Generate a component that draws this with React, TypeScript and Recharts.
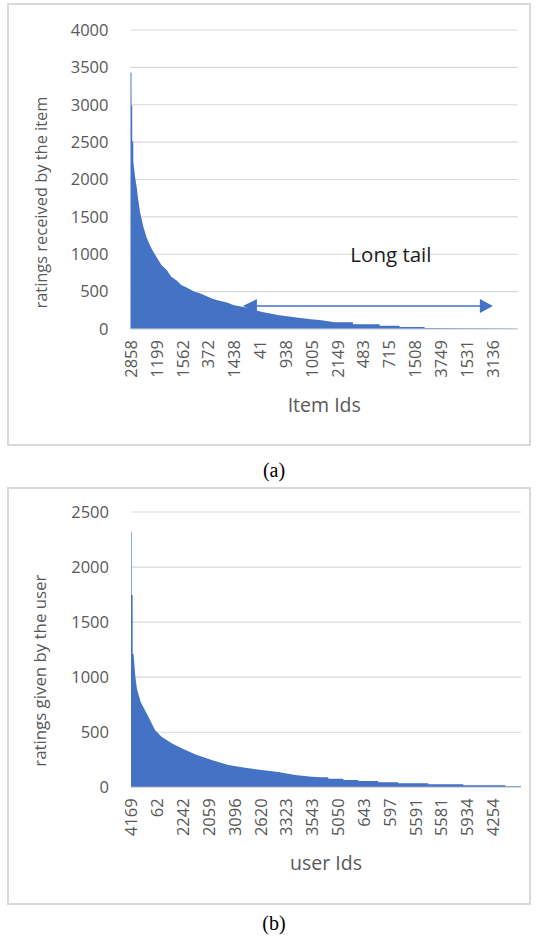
import React from "react";
import {
  AreaChart,
  Area,
  XAxis,
  YAxis,
  CartesianGrid,
  ReferenceLine,
  Label,
} from "recharts";

// item popularity (rank in sorted order -> ratings received)
const itemRanks = [
  0, 9, 10, 16, 17, 26, 27, 43, 59, 74, 91, 122, 155, 186, 218, 294, 346, 390,
  441, 485, 537, 613, 664, 772, 823, 931, 982, 1091, 1249, 1409, 1568, 1723,
  1810, 1953, 2127, 2128, 2382, 2383, 2573, 2574, 2812, 2813, 3700, 3706,
];
const itemCounts = [
  3430, 3430, 2990, 2990, 2510, 2510, 2240, 2040, 1900, 1725, 1570, 1370, 1220,
  1120, 1034, 860, 789, 700, 650, 590, 555, 500, 477, 410, 388, 352, 321, 290,
  231, 187, 156, 130, 120, 89, 89, 63, 63, 44, 44, 27, 27, 13, 5, 5,
];
const itemTickRanks = [
  0, 247, 494, 741, 988, 1235, 1482, 1729, 1976, 2223, 2470, 2717, 2964, 3211,
  3458,
];
const itemTickLabels = [
  "2858", "1199", "1562", "372", "1438", "41", "938", "1005", "2149", "483",
  "715", "1508", "3749", "1531", "3136",
];
const itemYTicks = [0, 500, 1000, 1500, 2000, 2500, 3000, 3500, 4000];

// user activity (rank -> ratings given)
const userRanks = [
  0, 9, 10, 25, 26, 40, 67, 93, 118, 150, 268, 372, 474, 629, 784, 991, 1249,
  1507, 1766, 2023, 2282, 2540, 2797, 2932, 3055, 3056, 3288, 3289, 3520, 3521,
  3830, 3831, 4139, 4140, 4604, 4605, 5146, 5147, 5797, 5798, 6040,
];
const userCounts = [
  2320, 2320, 1746, 1746, 1210, 1210, 1004, 890, 840, 775, 642, 521, 460, 400,
  354, 300, 248, 203, 178, 157, 139, 112, 96, 91, 91, 78, 78, 66, 66, 57, 57,
  45, 45, 36, 36, 27, 27, 18, 18, 9, 9,
];
const userTickRanks = [
  0, 400, 800, 1200, 1600, 2000, 2400, 2800, 3200, 3600, 4000, 4400, 4800, 5200,
  5600,
];
const userTickLabels = [
  "4169", "62", "2242", "2059", "3096", "2620", "3323", "3543", "5050", "643",
  "597", "5591", "5581", "5934", "4254",
];
const userYTicks = [0, 500, 1000, 1500, 2000, 2500];

const BLUE = "#4472C4";
const GREY = "#595959";
const GRID = "#d9d9d9";
const FONT = "'Open Sans', sans-serif";

const itemData = itemRanks.map((rank, i) => ({ rank, count: itemCounts[i] }));
const userData = userRanks.map((rank, i) => ({ rank, count: userCounts[i] }));

function makeTick(ticks: number[], labels: string[]) {
  return (props: any) => {
    const { x, y, payload } = props;
    const idx = ticks.indexOf(payload.value);
    return (
      <text
        x={x}
        y={y}
        transform={`rotate(-90 ${x} ${y})`}
        textAnchor="end"
        dominantBaseline="central"
        fill={GREY}
        fontSize={16.5}
        fontFamily={FONT}
      >
        {labels[idx]}
      </text>
    );
  };
}

// the axis titles sit a little below the middle of the plot in the original,
// and the original font is narrower, hence textLength
function yTitle(text: string, shift: number, len: number) {
  return (props: any) => {
    const vb = props.viewBox;
    const cx = vb.x + 33;
    const cy = vb.y + vb.height / 2 + shift;
    return (
      <text
        x={cx}
        y={cy}
        transform={`rotate(-90 ${cx} ${cy})`}
        textAnchor="middle"
        dominantBaseline="central"
        fill={GREY}
        fontSize={17}
        fontFamily={FONT}
        textLength={len}
        lengthAdjust="spacingAndGlyphs"
      >
        {text}
      </text>
    );
  };
}

function xTitle(text: string, dy: number) {
  return (props: any) => {
    const vb = props.viewBox;
    return (
      <text
        x={vb.x + vb.width / 2}
        y={vb.y + dy}
        textAnchor="middle"
        fill={GREY}
        fontSize={19.5}
        fontFamily={FONT}
      >
        {text}
      </text>
    );
  };
}

function TailArrow(props: any) {
  const { x1, y1, x2, y2 } = props;
  return (
    <g>
      <line x1={x1 + 12} y1={y1} x2={x2 - 12} y2={y2} stroke={BLUE} strokeWidth={1.5} />
      <polygon points={`${x1},${y1} ${x1 + 14},${y1 - 7} ${x1 + 14},${y1 + 7}`} fill={BLUE} />
      <polygon points={`${x2},${y2} ${x2 - 13},${y2 - 7} ${x2 - 13},${y2 + 7}`} fill={BLUE} />
      <text
        x={(x1 + x2) / 2 + 23}
        y={y1 - 44}
        textAnchor="middle"
        fill="#1a1a1a"
        fontSize={20.5}
        fontFamily={FONT}
      >
        Long tail
      </text>
    </g>
  );
}

const boxStyle: React.CSSProperties = {
  position: "absolute",
  left: 7,
  width: 524,
  border: `2px solid ${GRID}`,
  boxSizing: "border-box",
};

const captionStyle: React.CSSProperties = {
  position: "absolute",
  left: 0,
  width: 548,
  textAlign: "center",
  fontFamily: "'Liberation Serif', serif",
  fontSize: 20,
  color: "#000",
};

export default function App() {
  return (
    <div style={{ position: "absolute", left: 0, top: 0, width: 538, height: 939, background: "#fff" }}>
      <div style={{ ...boxStyle, top: 3, height: 443 }} />
      <div style={{ position: "absolute", left: 7, top: 3 }}>
        <AreaChart
          width={524}
          height={443}
          data={itemData}
          margin={{ top: 27, right: 13, left: 0, bottom: 0 }}
        >
          <CartesianGrid vertical={false} stroke={GRID} strokeWidth={1.2} />
          <XAxis
            type="number"
            dataKey="rank"
            domain={[0, 3706]}
            ticks={itemTickRanks}
            interval={0}
            height={117}
            tickLine={false}
            axisLine={{ stroke: GRID, strokeWidth: 1.2 }}
            tickSize={6}
            tickMargin={5}
            tick={makeTick(itemTickRanks, itemTickLabels)}
          >
            <Label content={xTitle("Item Ids", 83)} />
          </XAxis>
          <YAxis
            domain={[0, 4000]}
            ticks={itemYTicks}
            width={123.5}
            axisLine={false}
            tickLine={false}
            tickMargin={16}
            tick={{ fill: GREY, fontSize: 16.5, fontFamily: FONT }}
          >
            <Label content={yTitle("ratings received by the item", 23, 212)} />
          </YAxis>
          <Area
            type="linear"
            dataKey="count"
            stroke="none"
            fill={BLUE}
            fillOpacity={1}
            isAnimationActive={false}
          />
          <ReferenceLine
            segment={[
              { x: 1075, y: 308 },
              { x: 3466, y: 308 },
            ]}
            shape={TailArrow}
          />
        </AreaChart>
      </div>
      <div style={{ ...captionStyle, top: 459 }}>(a)</div>

      <div style={{ ...boxStyle, top: 487, height: 418 }} />
      <div style={{ position: "absolute", left: 7, top: 487 }}>
        <AreaChart
          width={524}
          height={418}
          data={userData}
          margin={{ top: 25, right: 10, left: 0, bottom: 0 }}
        >
          <CartesianGrid vertical={false} stroke={GRID} strokeWidth={1.2} />
          <XAxis
            type="number"
            dataKey="rank"
            domain={[0, 6040]}
            ticks={userTickRanks}
            interval={0}
            height={117.7}
            tickLine={false}
            axisLine={{ stroke: GRID, strokeWidth: 1.2 }}
            tickSize={6}
            tickMargin={5}
            tick={makeTick(userTickRanks, userTickLabels)}
          >
            <Label content={xTitle("user Ids", 83)} />
          </XAxis>
          <YAxis
            domain={[0, 2500]}
            ticks={userYTicks}
            width={124}
            axisLine={false}
            tickLine={false}
            tickMargin={16}
            tick={{ fill: GREY, fontSize: 16.5, fontFamily: FONT }}
          >
            <Label content={yTitle("ratings given by the user", 21, 192)} />
          </YAxis>
          <Area
            type="linear"
            dataKey="count"
            stroke="none"
            fill={BLUE}
            fillOpacity={1}
            isAnimationActive={false}
          />
        </AreaChart>
      </div>
      <div style={{ ...captionStyle, top: 912 }}>(b)</div>
    </div>
  );
}
